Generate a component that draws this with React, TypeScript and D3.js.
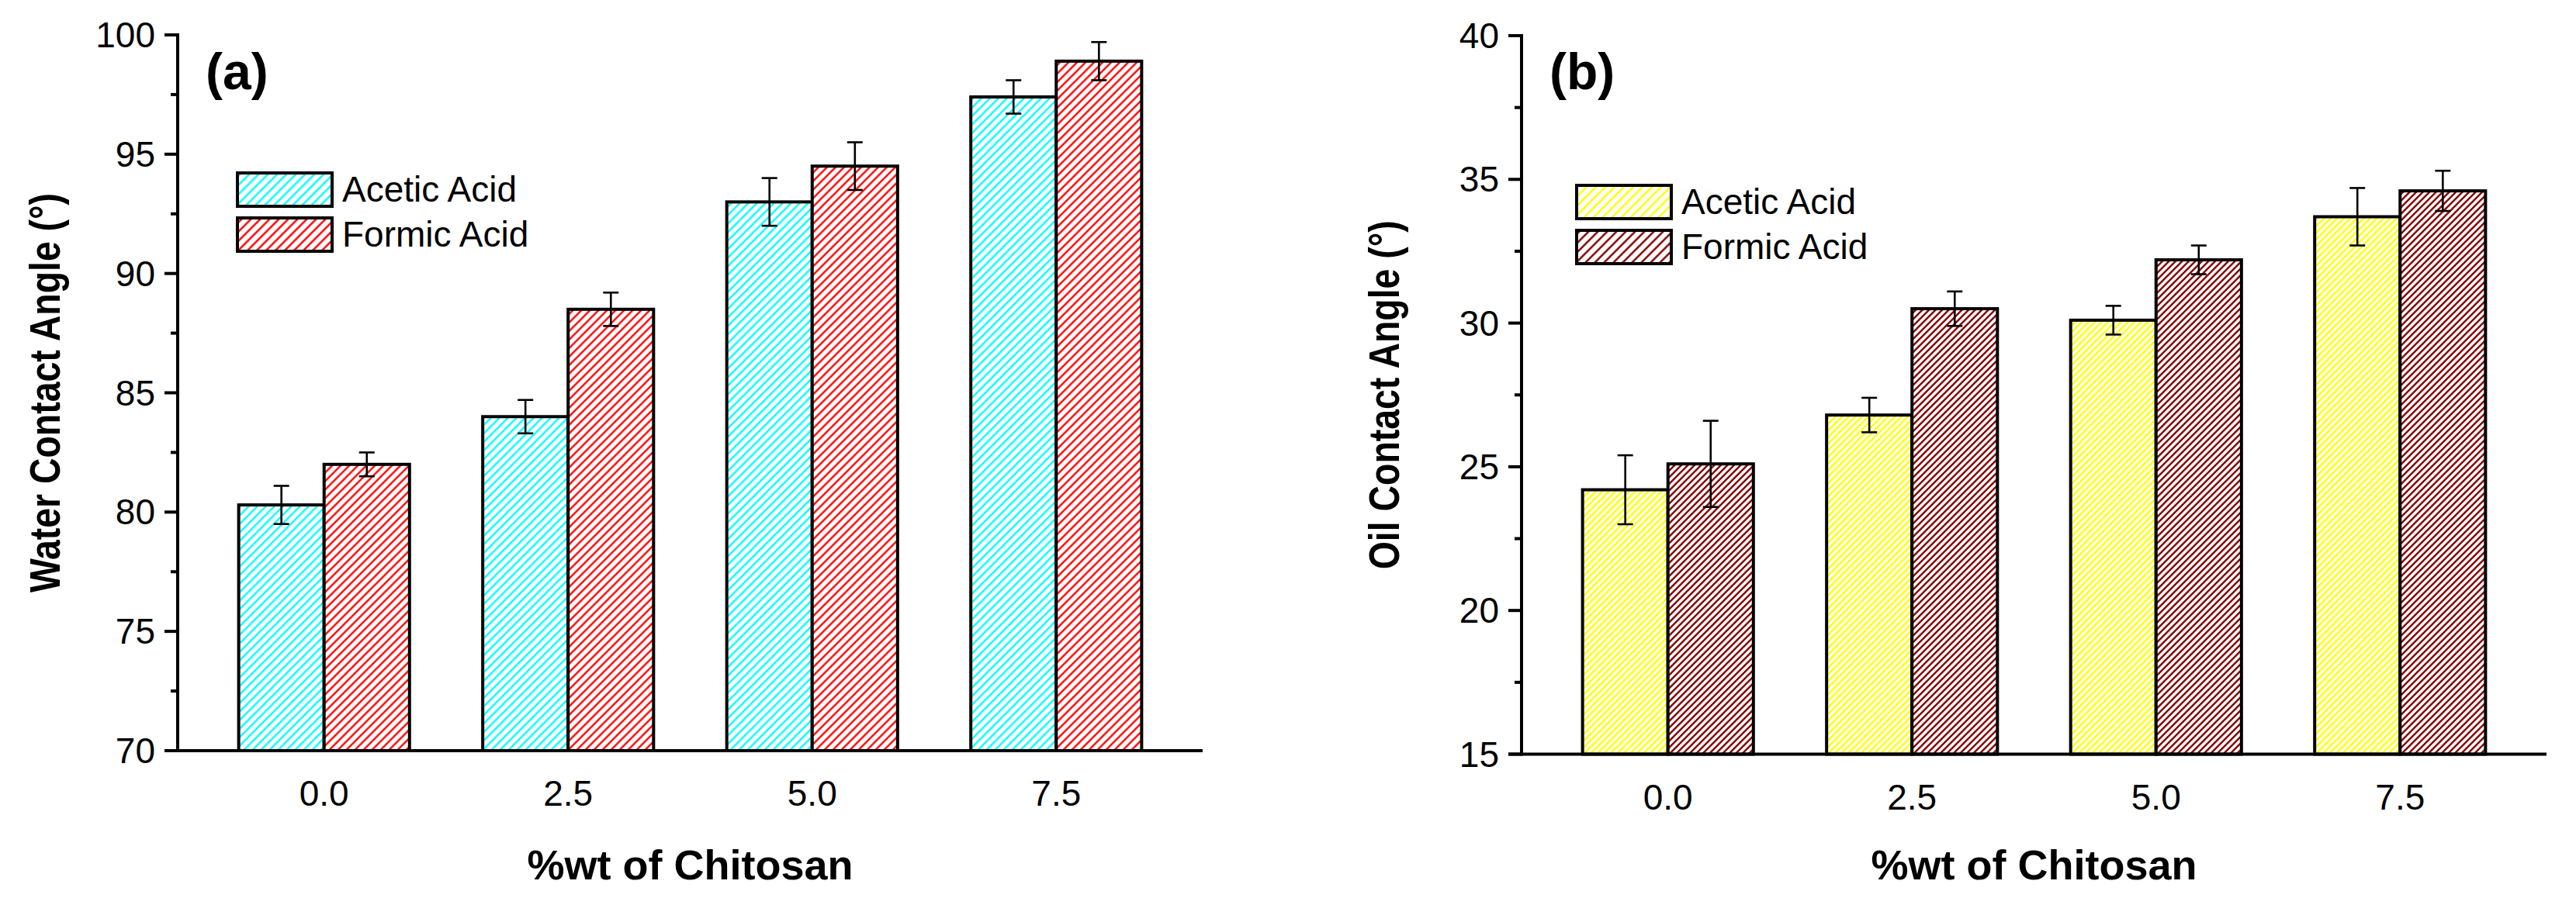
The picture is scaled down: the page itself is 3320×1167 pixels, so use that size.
import React from 'react';
import * as d3 from 'd3';

// ---------- data ----------
const categories = ['0.0', '2.5', '5.0', '7.5'];
const chitosan = [0, 2.5, 5.0, 7.5];
const seriesNames = ['Acetic Acid', 'Formic Acid'];

const waterAcetic = [80.3, 84.0, 93.0, 97.4];
const waterAceticErr = [0.8, 0.7, 1.0, 0.7];
const waterFormic = [82.0, 88.5, 94.5, 98.9];
const waterFormicErr = [0.5, 0.7, 1.0, 0.8];

const oilAcetic = [24.2, 26.8, 30.1, 33.7];
const oilAceticErr = [1.2, 0.6, 0.5, 1.0];
const oilFormic = [25.1, 30.5, 32.2, 34.6];
const oilFormicErr = [1.5, 0.6, 0.5, 0.7];

const waterTicks = [70, 75, 80, 85, 90, 95, 100];
const oilTicks = [15, 20, 25, 30, 35, 40];

const FONT = '"Liberation Sans", Arial, Helvetica, sans-serif';

type PanelProps = {
  id: string;
  x0: number; x1: number; yTop: number; yBottom: number;
  yDomain: [number, number];
  ticks: number[];
  a: number[]; aErr: number[]; b: number[]; bErr: number[];
  colorA: string; colorB: string;
  hatch: number;
  letter: string;
  yTitle: string;
  yTitleX: number; yTitleLen: number;
  legendX: number; legendY: number;
};

function Panel(p: PanelProps) {
  const x = d3.scaleLinear().domain([-1.5, 9]).range([p.x0, p.x1]);
  const y = d3.scaleLinear().domain(p.yDomain).range([p.yBottom, p.yTop]);
  const barW = x(0.875) - x(0);
  const base = y(p.yDomain[0]);
  const step = p.ticks[1] - p.ticks[0];
  const minor = p.ticks.slice(0, -1).map((t) => t + step / 2);
  const capW = 20;
  const idA = `${p.id}-a`;
  const idB = `${p.id}-b`;
  const idLA = `${p.id}-la`;
  const idLB = `${p.id}-lb`;
  const mkPattern = (id: string, color: string, period: number) => {
    const s = period / Math.SQRT2;
    return (
      <pattern key={id} id={id} patternUnits="userSpaceOnUse" width={s} height={s} patternTransform="rotate(45)">
        <rect width={s} height={s} fill="#ffffff" />
        <line x1={s / 2} y1={-1} x2={s / 2} y2={s + 1} stroke={color} strokeWidth={2.4} />
      </pattern>
    );
  };
  const series = [
    { vals: p.a, errs: p.aErr, fill: `url(#${idA})`, off: -barW },
    { vals: p.b, errs: p.bErr, fill: `url(#${idB})`, off: 0 },
  ];
  const cy = (p.yTop + p.yBottom) / 2;
  return (
    <g>
      <defs>
        {mkPattern(idA, p.colorA, p.hatch)}
        {mkPattern(idB, p.colorB, p.hatch)}
        {mkPattern(idLA, p.colorA, 12)}
        {mkPattern(idLB, p.colorB, 12)}
      </defs>
      {/* bars */}
      {series.map((s, si) =>
        chitosan.map((c, i) => (
          <rect key={`bar-${si}-${i}`} x={x(c) + s.off} y={y(s.vals[i])} width={barW} height={base - y(s.vals[i])}
            fill={s.fill} stroke="#000" strokeWidth={4} />
        ))
      )}
      {/* error bars */}
      {series.map((s, si) =>
        chitosan.map((c, i) => {
          const cx = x(c) + s.off + barW / 2;
          const hi = y(s.vals[i] + s.errs[i]);
          const lo = y(s.vals[i] - s.errs[i]);
          return (
            <g key={`err-${si}-${i}`} stroke="#000" strokeWidth={2.6}>
              <line x1={cx} x2={cx} y1={hi} y2={lo} />
              <line x1={cx - capW / 2} x2={cx + capW / 2} y1={hi} y2={hi} />
              <line x1={cx - capW / 2} x2={cx + capW / 2} y1={lo} y2={lo} />
            </g>
          );
        })
      )}
      {/* axes */}
      <line x1={p.x0} x2={p.x0} y1={y(p.ticks[p.ticks.length - 1]) - 2} y2={base + 2} stroke="#000" strokeWidth={4} />
      <line x1={p.x0 - 17} x2={p.x1} y1={base} y2={base} stroke="#000" strokeWidth={4} />
      {p.ticks.map((t) => (
        <g key={`t-${t}`}>
          <line x1={p.x0 - 17} x2={p.x0} y1={y(t)} y2={y(t)} stroke="#000" strokeWidth={4} />
          <text x={p.x0 - 29} y={y(t) + 16} textAnchor="end" fontFamily={FONT} fontSize={46} fill="#000">{t}</text>
        </g>
      ))}
      {minor.map((t) => (
        <line key={`m-${t}`} x1={p.x0 - 9} x2={p.x0} y1={y(t)} y2={y(t)} stroke="#000" strokeWidth={4} />
      ))}
      {chitosan.map((c, i) => (
        <text key={`xl-${i}`} x={x(c)} y={base + 71} textAnchor="middle" fontFamily={FONT} fontSize={46} fill="#000">{categories[i]}</text>
      ))}
      {/* titles */}
      <text x={(p.x0 + p.x1) / 2} y={1134} textAnchor="middle" fontFamily={FONT} fontSize={54} fontWeight="bold" fill="#000">%wt of Chitosan</text>
      <text transform={`translate(${p.yTitleX},${cy}) rotate(-90)`} textAnchor="middle" fontFamily={FONT} fontSize={56}
        fontWeight="bold" fill="#000" textLength={p.yTitleLen} lengthAdjust="spacingAndGlyphs">{p.yTitle}</text>
      <text x={p.x0 + 36} y={115} fontFamily={FONT} fontSize={66} fontWeight="bold" fill="#000">{p.letter}</text>
      {/* legend */}
      {[idLA, idLB].map((id, i) => (
        <g key={`lg-${i}`}>
          <rect x={p.legendX} y={p.legendY + i * 58} width={122} height={43} fill={`url(#${id})`} stroke="#000" strokeWidth={4} />
          <text x={p.legendX + 135} y={p.legendY + i * 58 + 37} fontFamily={FONT} fontSize={46} fill="#000">{seriesNames[i]}</text>
        </g>
      ))}
    </g>
  );
}

export default function App() {
  return (
    <svg width={3320} height={1167} viewBox="0 0 3320 1167"
      style={{ position: 'absolute', left: 0, top: 0, background: '#fff' }}>
      <rect width={3320} height={1167} fill="#fff" />
      <Panel id="w" x0={229} x1={1550} yTop={45} yBottom={968} yDomain={[70, 100]} ticks={waterTicks}
        a={waterAcetic} aErr={waterAceticErr} b={waterFormic} bErr={waterFormicErr}
        colorA="#00ffff" colorB="#ff0000" hatch={11} letter="(a)"
        yTitle="Water Contact Angle (°)" yTitleX={77} yTitleLen={515}
        legendX={306} legendY={223} />
      <Panel id="o" x0={1961} x1={3282} yTop={46} yBottom={972.5} yDomain={[15, 40]} ticks={oilTicks}
        a={oilAcetic} aErr={oilAceticErr} b={oilFormic} bErr={oilFormicErr}
        colorA="#ffff00" colorB="#800000" hatch={8.5} letter="(b)"
        yTitle="Oil Contact Angle (°)" yTitleX={1803} yTitleLen={450}
        legendX={2032} legendY={239} />
    </svg>
  );
}
